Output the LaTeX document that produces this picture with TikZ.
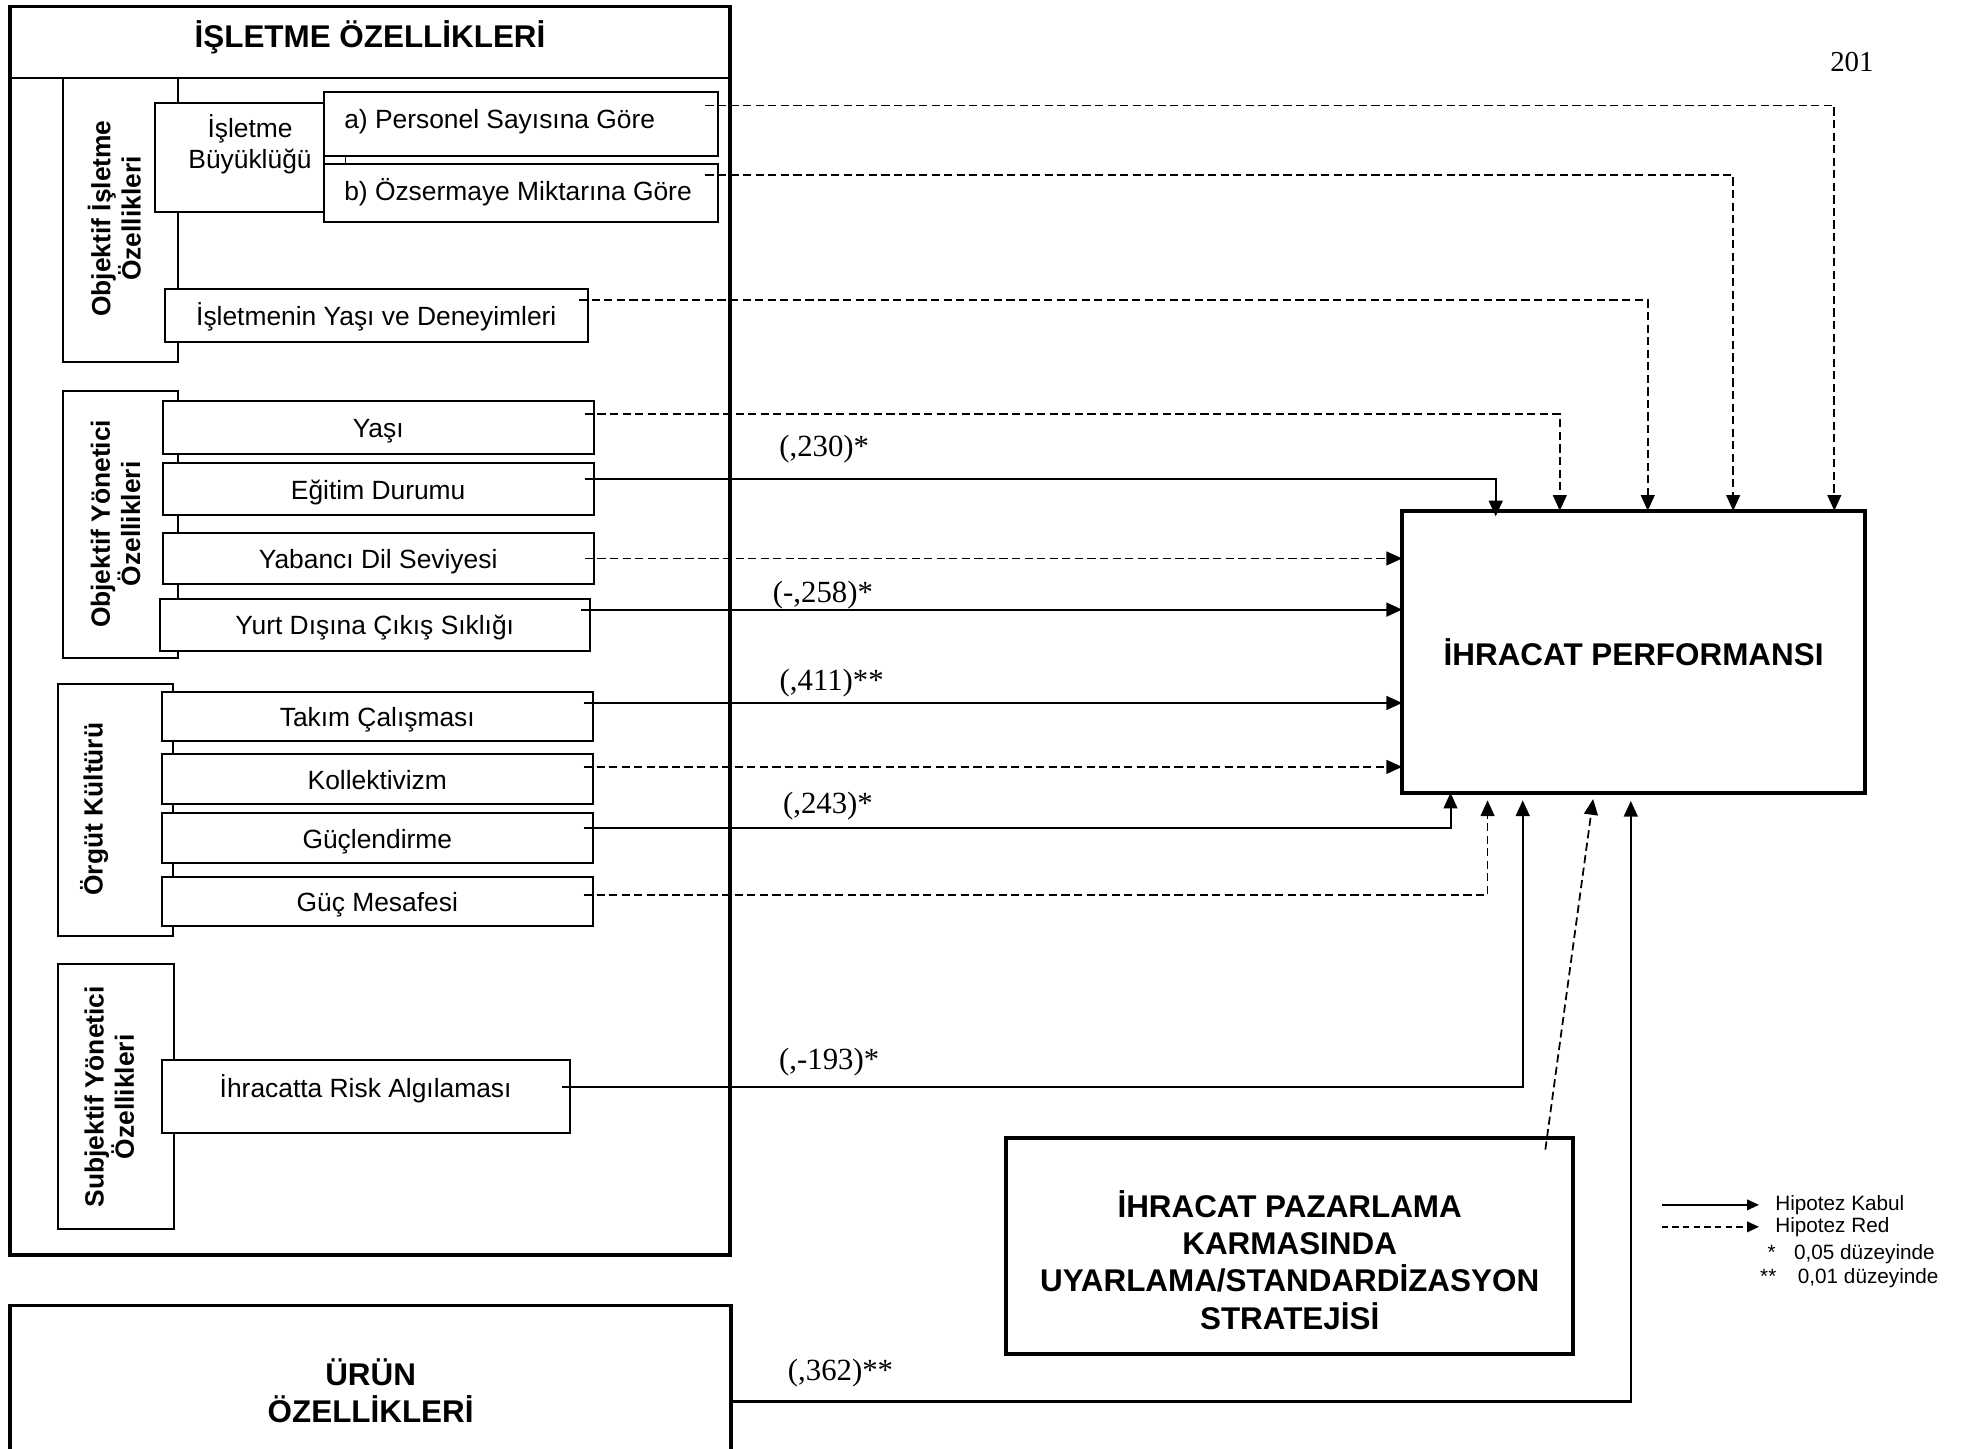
\documentclass[tikz,border=0pt]{standalone}
\usepackage{fontspec}
\setmainfont{Liberation Sans}
\newfontfamily\serifnum{Liberation Serif}
\usetikzlibrary{arrows.meta}

\begin{document}
\begin{tikzpicture}[x=1pt,y=-1pt,
  every node/.style={inner sep=0pt, outer sep=0pt},
  bigframe/.style={draw, line width=2.8pt, fill=white},
  groupbox/.style={draw, line width=1.6pt, fill=white},
  itembox/.style={draw, line width=1.6pt, fill=white,
    font=\fontsize{21}{25}\selectfont, text height=16pt, text depth=0pt},
  itemtext/.style={align=center, font=\fontsize{21}{25}\selectfont},
  grouplabel/.style={rotate=90, align=center, font=\fontsize{21}{24}\selectfont\bfseries},
  bigtext/.style={align=center, font=\fontsize{25}{29.5}\selectfont\bfseries},
  coef/.style={font=\serifnum\fontsize{24.5}{28}\selectfont},
  legtext/.style={anchor=west, font=\fontsize{16.5}{20}\selectfont,
    text height=12pt, text depth=3.5pt},
  headtip/.style={-{Triangle[length=12.5pt,width=11pt]}},
  accline/.style={line width=1.6pt, headtip},
  rejline/.style={line width=1.4pt, dash pattern=on 6.5pt off 3.5pt, headtip},
]
\useasboundingbox (0,0) rectangle (1568,1152.6);
\fill[white] (0,0) rectangle (1568,1152.6);
\clip (0,0) rectangle (1568,1152.6);

% ---------- firm characteristics frame ----------
\node[bigframe, minimum width=573pt, minimum height=994pt] (isl) at (294.5,502) {};
\draw[line width=1.6pt] ([shift={(0,57)}]isl.north west) -- ([shift={(0,57)}]isl.north east);
\node[bigtext] (islT) at (294.5,30) {İŞLETME ÖZELLİKLERİ};

% objective firm characteristics
\node[groupbox, minimum width=92pt, minimum height=226pt] (oib) at (96,175) {};
\node[grouplabel] (oibT) at (91,174) {Objektif İşletme\\Özellikleri};
\node[groupbox, minimum width=135pt, minimum height=87pt] (bb) at (190.5,125.5) {};
\node[itemtext] (bbT) at (199,115) {İşletme\\Büyüklüğü};
\node[itembox, minimum width=313.5pt, minimum height=51pt] (pa) at (414.75,98.5) {};
\node[itemtext, anchor=west] (paT) at (274,96.5) {a) Personel Sayısına Göre};
\node[itembox, minimum width=313.5pt, minimum height=46.5pt] (pb) at (414.75,153.75) {};
\node[itemtext, anchor=west] (pbT) at (274,153) {b) Özsermaye Miktarına Göre};
\draw[line width=1.3pt] ([xshift=17pt]pa.south west) -- ([xshift=17pt]pb.north west);
\node[itembox, minimum width=337pt, minimum height=42pt] (iy) at (299.5,251) {İşletmenin Yaşı ve Deneyimleri};

% objective manager characteristics
\node[groupbox, minimum width=92pt, minimum height=212.5pt] (oyb) at (96,417.25) {};
\node[grouplabel] (oybT) at (92,417) {Objektif Yönetici\\Özellikleri};
\node[itembox, minimum width=343pt, minimum height=41.8pt] (ya) at (301,340.4) {Yaşı};
\node[itembox, minimum width=343pt, minimum height=41.6pt] (eg) at (301,389.2) {Eğitim Durumu};
\node[itembox, minimum width=343pt, minimum height=41pt] (yd) at (301,444.5) {Yabancı Dil Seviyesi};
\node[itembox, minimum width=342.6pt, minimum height=41.6pt] (yu) at (298.3,497.2) {Yurt Dışına Çıkış Sıklığı};

% organisational culture
\node[groupbox, minimum width=92pt, minimum height=200.2pt] (okb) at (92,644.5) {};
\node[grouplabel] (okbT) at (75,644) {Örgüt Kültürü};
\node[itembox, minimum width=343pt, minimum height=39.2pt] (tc) at (300.3,570.4) {Takım Çalışması};
\node[itembox, minimum width=343pt, minimum height=39.8pt] (ko) at (300.3,620.3) {Kollektivizm};
\node[itembox, minimum width=343pt, minimum height=39.5pt] (gu) at (300.3,667) {Güçlendirme};
\node[itembox, minimum width=343pt, minimum height=38.9pt] (gm) at (300.3,717.85) {Güç Mesafesi};

% subjective manager characteristics
\node[groupbox, minimum width=92.2pt, minimum height=210.6pt] (syb) at (92.1,872.7) {};
\node[grouplabel] (sybT) at (87,873) {Subjektif Yönetici\\Özellikleri};
\node[itembox, minimum width=325.2pt, minimum height=57.6pt] (ri) at (291.4,872.8) {};
\node[itemtext] (riT) at (291,867) {İhracatta Risk Algılaması};

% ---------- product characteristics ----------
\node[bigframe, minimum width=574pt, minimum height=131pt] (ur) at (295,1104.5) {};
\node[bigtext] (urT) at (295,1107) {ÜRÜN\\ÖZELLİKLERİ};

% ---------- export performance ----------
\node[draw, line width=3pt, fill=white, minimum width=368.5pt, minimum height=224.5pt,
      font=\fontsize{25}{29.5}\selectfont\bfseries] (perf) at (1300.25,518.75) {İHRACAT PERFORMANSI};

% ---------- adaptation / standardisation strategy ----------
\node[draw, line width=3pt, fill=white, minimum width=451.3pt, minimum height=172.2pt] (sp) at (1026.65,991.6) {};
\node[bigtext] (spT) at (1026.5,1003) {İHRACAT PAZARLAMA\\KARMASINDA\\UYARLAMA/STANDARDİZASYON\\STRATEJİSİ};

% ---------- connector end points ----------
\coordinate (pa-o) at ([shift={(-10,-14.5)}]pa.east);
\coordinate (pb-o) at ([shift={(-10,-14.5)}]pb.east);
\coordinate (iy-o) at ([shift={(-7,-12.2)}]iy.east);
\coordinate (ya-o) at ([shift={(-7,-10.7)}]ya.east);
\coordinate (eg-o) at ([shift={(-7,-8.2)}]eg.east);
\coordinate (yd-o) at ([shift={(-7,0)}]yd.east);
\coordinate (yu-o) at ([shift={(-7,-12)}]yu.east);
\coordinate (tc-o) at ([shift={(-7,-10.9)}]tc.east);
\coordinate (ko-o) at ([shift={(-7,-9.9)}]ko.east);
\coordinate (gu-o) at ([shift={(-7,-7.8)}]gu.east);
\coordinate (gm-o) at ([shift={(-7,-5.5)}]gm.east);
\coordinate (ri-o) at ([shift={(-7,-7.8)}]ri.east);
\coordinate (ur-o) at ([shift={(0,76.5)}]ur.north east);
\coordinate (sp-o) at ([shift={(429,9.5)}]sp.north west);

\coordinate (pa-i) at ([xshift=344pt]perf.north west);
\coordinate (pb-i) at ([xshift=263.5pt]perf.north west);
\coordinate (iy-i) at ([xshift=195.5pt]perf.north west);
\coordinate (ya-i) at ([xshift=125.5pt]perf.north west);
\coordinate (eg-i) at ([shift={(74.5,4.5)}]perf.north west);
\coordinate (gu-i) at ([xshift=38.5pt]perf.south west);
\coordinate (gm-i) at ([shift={(68,6)}]perf.south west);
\coordinate (ri-i) at ([shift={(96,6)}]perf.south west);
\coordinate (sp-i) at ([shift={(152,5)}]perf.south west);
\coordinate (ur-i) at ([shift={(182,6.5)}]perf.south west);

% ---------- hypothesis paths ----------
\draw[rejline] (pa-o) -| (pa-i);
\draw[rejline] (pb-o) -| (pb-i);
\draw[rejline] (iy-o) -| (iy-i);
\draw[rejline] (ya-o) -| (ya-i);
\draw[accline] (eg-o) -| (eg-i);
\draw[rejline] (yd-o) -- (yd-o -| perf.west);
\draw[accline] (yu-o) -- (yu-o -| perf.west);
\draw[accline] (tc-o) -- (tc-o -| perf.west);
\draw[rejline] (ko-o) -- (ko-o -| perf.west);
\draw[accline] (gu-o) -| (gu-i);
\draw[rejline] (gm-o) -| (gm-i);
\draw[accline] (ri-o) -| (ri-i);
\draw[rejline] (sp-o) -- (sp-i);
\draw[accline] (ur-o) -| (ur-i);

% ---------- path coefficients ----------
\node[coef] (c230) at (656,357.5) {(,230)*};
\node[coef] (c258) at (655,473.5) {(-,258)*};
\node[coef] (c411) at (662,543.5) {(,411)**};
\node[coef] (c243) at (659,641.5) {(,243)*};
\node[coef] (c193) at (660,845.5) {(,-193)*};
\node[coef] (c362) at (669,1092.5) {(,362)**};

% page number
\node[font=\serifnum\fontsize{23}{27}\selectfont] (pg) at (1474,49.5) {201};

% ---------- legend ----------
\coordinate (lk1) at (1322.5,959);
\coordinate (lk2) at (1400,959);
\draw[line width=1.4pt, -{Triangle[length=9.5pt,width=8.5pt]}] (lk1) -- (lk2);
\node[legtext] (lkT) at (1413,959.5) {Hipotez Kabul};
\coordinate (lr1) at (1322.5,976.5);
\coordinate (lr2) at (1400,976.5);
\draw[line width=1.3pt, dash pattern=on 5pt off 3.5pt, -{Triangle[length=9.5pt,width=8.5pt]}] (lr1) -- (lr2);
\node[legtext] (lrT) at (1413,977) {Hipotez Red};
\node[legtext] (s1) at (1407,998) {*};
\node[legtext] (s1T) at (1428,998) {0,05 düzeyinde};
\node[legtext] (s2) at (1401,1017.5) {**};
\node[legtext] (s2T) at (1431,1017.5) {0,01 düzeyinde};
\end{tikzpicture}
\end{document}
